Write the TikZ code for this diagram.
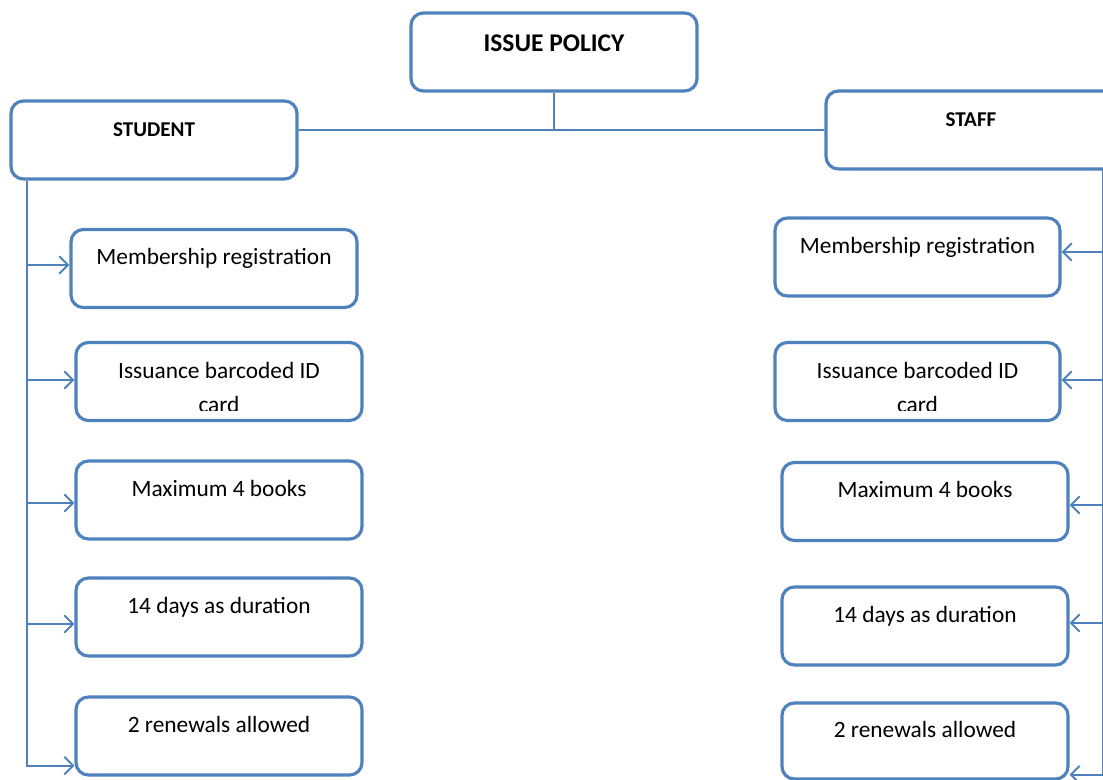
\documentclass[tikz,border=0pt]{standalone}
\usepackage{fontspec}
\setmainfont{Carlito}
\usetikzlibrary{arrows.meta}
\definecolor{bl}{HTML}{4F81BD}
\begin{document}
\begin{tikzpicture}[x=0.02cm,y=-0.02cm,
  box/.style={draw=bl, line width=1.8pt, rounded corners=7pt, fill=white,
    minimum width=5.72cm, minimum height=1.56cm, inner sep=0pt,
    font=\fontsize{13.3}{16}\selectfont, text height=9pt, text depth=13pt},
  head/.style={box, font=\bfseries\fontsize{12}{14}\selectfont, text height=8pt, text depth=11.6pt},
  conn/.style={draw=bl, line width=1.1pt},
  arr/.style={conn, -{Straight Barb[length=5pt,width=10pt]}},
  itxt/.style={font=\fontsize{13.3}{19.5}\selectfont, align=center, inner sep=0pt, anchor=base}]
\useasboundingbox (0,0) rectangle (1103,780);
\clip (0,0) rectangle (1103,780);
% top
\node[box, font=\bfseries\fontsize{14.5}{17}\selectfont, text height=8pt, text depth=8pt] (issue) at (554,52) {ISSUE POLICY};
\node[head] (student) at (154,140) {STUDENT};
\node[head, minimum width=5.8cm] (staff) at (971,130) {STAFF};
% student side
\node[box] (s1) at (214,268.5) {Membership registration};
\node[box] (s2) at (219,381.5) {};
\node[box] (s3) at (219,500) {Maximum 4 books};
\node[box] (s4) at (219,617) {14 days as duration};
\node[box] (s5) at (219,736) {2 renewals allowed};
% staff side
\node[box, minimum width=5.7cm] (f1) at (917.5,257) {Membership registration};
\node[box, minimum width=5.7cm] (f2) at (917.5,381.5) {};
\node[box] (f3) at (925,501.5) {Maximum 4 books};
\node[box] (f4) at (925,626) {14 days as duration};
\node[box, minimum height=1.52cm] (f5) at (925,741) {2 renewals allowed};
% clipped two-line texts (base = baseline of last line)
\begin{scope}
  \clip (s2.north west) rectangle ([yshift=0.24cm]s2.south east);
  \node[itxt] (s2t) at ([yshift=-0.63cm]s2.center) {Issuance barcoded ID\\card};
\end{scope}
\begin{scope}
  \clip (f2.north west) rectangle ([yshift=0.24cm]f2.south east);
  \node[itxt] (f2t) at ([yshift=-0.63cm]f2.center) {Issuance barcoded ID\\card};
\end{scope}
% top connectors
\coordinate (j) at (issue.south |- staff.west);
\draw[conn] (issue.south) -- (j);
\draw[conn] ([yshift=0.2cm]student.east) -- (staff.west);
% student trunk
\coordinate (ts) at ([xshift=0.36cm]student.south west);
\coordinate (a1) at ([yshift=0.07cm]s1.west);
\coordinate (a2) at ([yshift=0.03cm]s2.west);
\coordinate (a3) at ([yshift=-0.06cm]s3.west);
\coordinate (a4) at ([yshift=-0.14cm]s4.west);
\coordinate (a5) at ([yshift=0.22cm]s5.south west);
\draw[arr] (ts) |- (a5);
\draw[arr] (a1 -| ts) -- (a1);
\draw[arr] (a2 -| ts) -- (a2);
\draw[arr] (a3 -| ts) -- (a3);
\draw[arr] (a4 -| ts) -- (a4);
% staff trunk
\coordinate (tf) at (1103,169);
\coordinate (b1) at ([yshift=0.1cm]f1.east);
\coordinate (b2) at ([yshift=0.03cm]f2.east);
\coordinate (b3) at ([yshift=-0.07cm]f3.east);
\coordinate (b4) at ([yshift=0.06cm]f4.east);
\coordinate (b5) at ([yshift=0.12cm]f5.south east);
\draw[arr] (tf) |- (b5);
\draw[arr] (b1 -| tf) -- (b1);
\draw[arr] (b2 -| tf) -- (b2);
\draw[arr] (b3 -| tf) -- (b3);
\draw[arr] (b4 -| tf) -- (b4);
\end{tikzpicture}
\end{document}
